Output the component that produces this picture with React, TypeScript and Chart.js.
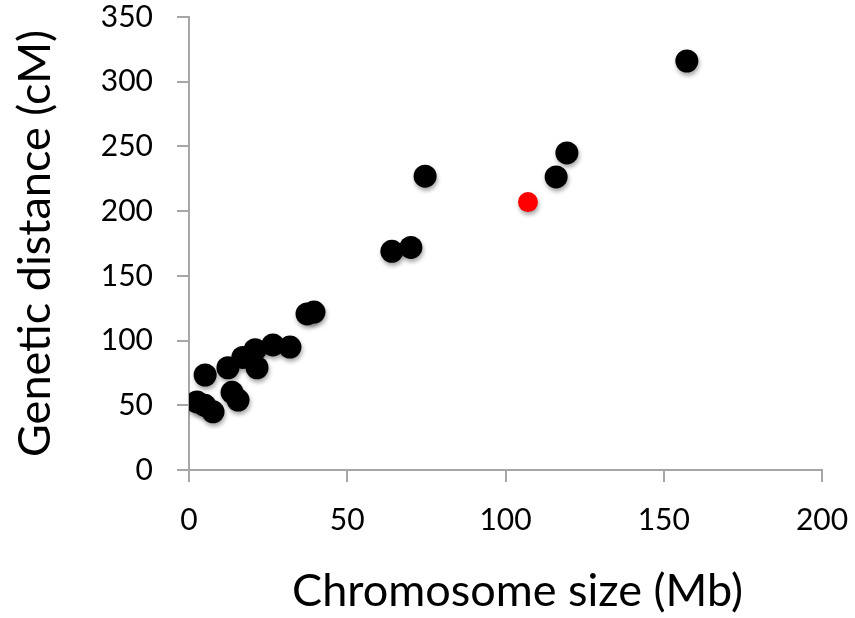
import React, { useEffect, useRef } from "react";
import { Chart, registerables } from "chart.js";

Chart.register(...registerables);

const blackX = [157.3, 119.4, 116, 74.6, 70.1, 64.1, 39.5, 37.3, 31.9, 26.5, 20.9, 21.5, 17, 12.3, 13.6, 15.5, 5.1, 2.5, 5, 7.6];
const blackY = [316, 245, 226.4, 227, 172, 169, 122, 120.6, 95, 96.6, 93, 79, 87, 79, 60, 54, 73.4, 52.6, 50, 45];
const redX = [107.1];
const redY = [207];
const xTicks = [0, 50, 100, 150, 200];
const yTicks = [0, 50, 100, 150, 200, 250, 300, 350];
const xTitle = "Chromosome size (Mb)";
const yTitle = "Genetic distance (cM)";

const FONT = "Lato, 'Open Sans', sans-serif";
const AXIS = "#a6a6a6";

const shadowPlugin = {
  id: "shadow",
  beforeDatasetsDraw(chart: any) {
    const ctx = chart.ctx;
    ctx.save();
    ctx.shadowColor = "rgba(0,0,0,0.35)";
    ctx.shadowBlur = 4;
    ctx.shadowOffsetX = 1;
    ctx.shadowOffsetY = 3;
  },
  afterDatasetsDraw(chart: any) {
    chart.ctx.restore();
  },
};

const xTitlePlugin = {
  id: "xTitle",
  afterDraw(chart: any) {
    const ctx = chart.ctx;
    const area = chart.chartArea;
    ctx.save();
    ctx.fillStyle = "#000";
    ctx.font = `45px ${FONT}`;
    ctx.textAlign = "center";
    ctx.textBaseline = "middle";
    ctx.fillText(xTitle, (area.left + area.right) / 2 + 12, chart.height - 27);
    ctx.restore();
  },
};

export default function App() {
  const ref = useRef<HTMLCanvasElement | null>(null);
  useEffect(() => {
    if (!ref.current) return;
    const chart = new Chart(ref.current, {
      type: "scatter",
      data: {
        datasets: [
          {
            data: blackX.map((x, i) => ({ x, y: blackY[i] })),
            backgroundColor: "#000000",
            borderColor: "#000000",
            pointRadius: 11.5,
            borderWidth: 0,
          },
          {
            data: redX.map((x, i) => ({ x, y: redY[i] })),
            backgroundColor: "#ff0000",
            borderColor: "#ff0000",
            pointRadius: 10,
            borderWidth: 0,
          },
        ],
      },
      plugins: [shadowPlugin, xTitlePlugin],
      options: {
        animation: false,
        responsive: false,
        layout: { padding: { left: 0, right: 33, top: 17, bottom: 0 } },
        plugins: { legend: { display: false }, tooltip: { enabled: false } },
        scales: {
          x: {
            type: "linear",
            min: 0,
            max: 200,
            afterBuildTicks: (s: any) => {
              s.ticks = xTicks.map((v) => ({ value: v }));
            },
            afterFit: (s: any) => {
              s.height = 148;
              s.paddingLeft = 0;
              s.paddingRight = 0;
            },
            border: { color: AXIS, width: 2 },
            grid: { drawOnChartArea: false, drawTicks: true, tickLength: 12, color: AXIS, lineWidth: 2 },
            ticks: { color: "#000", font: { family: FONT, size: 30 }, padding: 20, maxRotation: 0 },
            title: { display: false },
          },
          y: {
            type: "linear",
            min: 0,
            max: 350,
            afterBuildTicks: (s: any) => {
              s.ticks = yTicks.map((v) => ({ value: v }));
            },
            afterFit: (s: any) => {
              s.width = 189;
              s.paddingTop = 0;
              s.paddingBottom = 0;
            },
            border: { color: AXIS, width: 2 },
            grid: { drawOnChartArea: false, drawTicks: true, tickLength: 12, color: AXIS, lineWidth: 2 },
            ticks: { color: "#000", font: { family: FONT, size: 30 }, padding: 24 },
            title: { display: true, text: yTitle, color: "#000", font: { family: FONT, size: 45 }, padding: { top: 8, bottom: 0 } },
          },
        },
      },
    } as any);
    return () => chart.destroy();
  }, []);
  return (
    <div style={{ position: "fixed", left: 0, top: 0, width: 855, height: 618, background: "#fff" }}>
      <canvas ref={ref} width={855} height={618} style={{ width: 855, height: 618 }} />
    </div>
  );
}
